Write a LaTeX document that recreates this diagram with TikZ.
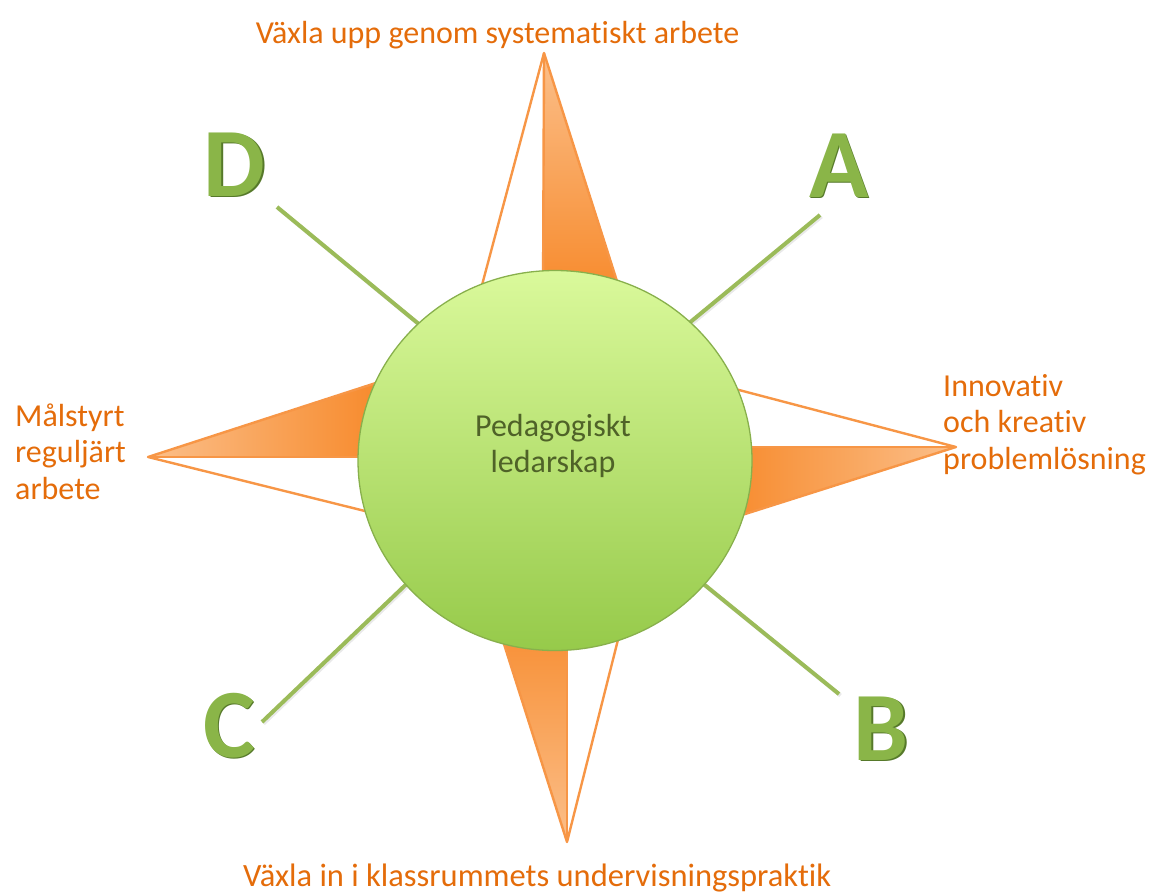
\documentclass[tikz,border=0pt]{standalone}
\usepackage{fontspec}
\setmainfont{Carlito}[Ligatures=CommonOff]
\usetikzlibrary{shapes.geometric}
\definecolor{orTxt}{HTML}{E46C0A}
\definecolor{orLine}{HTML}{F79646}
\definecolor{orDark}{HTML}{F7892A}
\definecolor{orLight}{HTML}{FBBF8A}
\definecolor{gLine}{HTML}{9BBB59}
\definecolor{gTop}{HTML}{DAF99B}
\definecolor{gBot}{HTML}{96CA4A}
\definecolor{gEdge}{HTML}{88B04C}
\definecolor{gTxt}{HTML}{4F6228}
\definecolor{gLet}{HTML}{8AB548}
\definecolor{gLetDark}{HTML}{56792A}
\begin{document}
\begin{tikzpicture}[x=1pt,y=-1pt,
  lbl/.style={text=orTxt, font=\fontsize{32}{36.5}\selectfont, inner sep=0pt},
  hubtext/.style={text=gTxt, font=\fontsize{32}{36.5}\selectfont, inner sep=0pt},
  letter/.style={text=gLet, font=\fontsize{98}{98}\selectfont\bfseries, inner sep=0pt, anchor=base},
  lettersh/.style={text=gLetDark, font=\fontsize{98}{98}\selectfont\bfseries, inner sep=0pt, anchor=base},
  spoke/.style={draw=gLine, line width=4pt},
  spokesh/.style={draw=black!25, line width=4pt, opacity=0.35},
  pointline/.style={draw=orLine, line width=2.4pt, line join=round},
  hubshape/.style={ellipse, minimum width=394pt, minimum height=380pt, inner sep=0pt,
    top color=gTop, bottom color=gBot, draw=gEdge, line width=1.3pt}
]
\useasboundingbox (0,0) rectangle (1154,895);

% spokes (green lines)
\coordinate (dOut) at (277,207); \coordinate (dIn) at (420,325);
\coordinate (aOut) at (820,215); \coordinate (aIn) at (688,324);
\coordinate (cOut) at (262,722); \coordinate (cIn) at (418,573);
\coordinate (bOut) at (839,694); \coordinate (bIn) at (690,573);
\foreach \p in {d,a,c,b}{
  \draw[spokesh] ([shift={(1.5,1.5)}]\p Out) -- ([shift={(1.5,1.5)}]\p In);
  \draw[spoke] (\p Out) -- (\p In);
}

% compass points
% top
\coordinate (tTip) at (544,53); \coordinate (tL) at (478,300);
\coordinate (tM) at (543,300); \coordinate (tR) at (623,300);
\fill[white] (tTip) -- (tL) -- (tR) -- cycle;
\shade[top color=orLight, bottom color=orDark] (tTip) -- (tM) -- (tR) -- cycle;
\draw[pointline] (tTip) -- (tL) -- (tR) -- cycle;
\draw[pointline] (tTip) -- (tM);
% right
\coordinate (rTip) at (956,447); \coordinate (rU) at (720,385);
\coordinate (rM) at (720,447); \coordinate (rD) at (720,522);
\fill[white] (rTip) -- (rU) -- (rD) -- cycle;
\shade[left color=orDark, right color=orLight] (rTip) -- (rM) -- (rD) -- cycle;
\draw[pointline] (rTip) -- (rU) -- (rD) -- cycle;
\draw[pointline] (rTip) -- (rM);
% bottom
\coordinate (bTip) at (567,842); \coordinate (bL) at (490,600);
\coordinate (bM) at (567,600); \coordinate (bR) at (628,600);
\fill[white] (bTip) -- (bL) -- (bR) -- cycle;
\shade[top color=orDark, bottom color=orLight] (bTip) -- (bL) -- (bM) -- cycle;
\draw[pointline] (bTip) -- (bL) -- (bR) -- cycle;
\draw[pointline] (bTip) -- (bM);
% left
\coordinate (lTip) at (148,457); \coordinate (lU) at (385,380);
\coordinate (lM) at (385,457); \coordinate (lD) at (385,516);
\fill[white] (lTip) -- (lU) -- (lD) -- cycle;
\shade[left color=orLight, right color=orDark] (lTip) -- (lU) -- (lM) -- cycle;
\draw[pointline] (lTip) -- (lU) -- (lD) -- cycle;
\draw[pointline] (lTip) -- (lM);

% hub
\node[hubshape] (hub) at (555,460.5) {};
\node[hubtext, anchor=base] (hubtxt) at (553,436)
  {\begin{tabular}[t]{@{}c@{}}Pedagogiskt\\ledarskap\end{tabular}};

% labels
\node[lbl, anchor=base] (top) at (497.5,43) {Växla upp genom systematiskt arbete};
\node[lbl, anchor=base west, font=\fontsize{32.5}{36.5}\selectfont] (bottom) at (243,886)
  {Växla in i klassrummets undervisningspraktik};
\node[lbl, anchor=base west] (right) at (943,396)
  {\begin{tabular}[t]{@{}l@{}}Innovativ\\och kreativ\\problemlösning\end{tabular}};
\node[lbl, anchor=base west] (left) at (15,426)
  {\begin{tabular}[t]{@{}l@{}}Målstyrt\\reguljärt\\arbete\end{tabular}};

% letters
\node[lettersh] (Dsh) at (236,197.5) {D};
\node[letter] (D) at (234.5,196) {D};
\node[lettersh] (Ash) at (840.5,198.5) {A};
\node[letter] (A) at (839,197) {A};
\node[lettersh] (Csh) at (230.5,758.5) {C};
\node[letter] (C) at (229,757) {C};
\node[lettersh] (Bsh) at (882.5,761.5) {B};
\node[letter] (B) at (881,760) {B};
\end{tikzpicture}
\end{document}
